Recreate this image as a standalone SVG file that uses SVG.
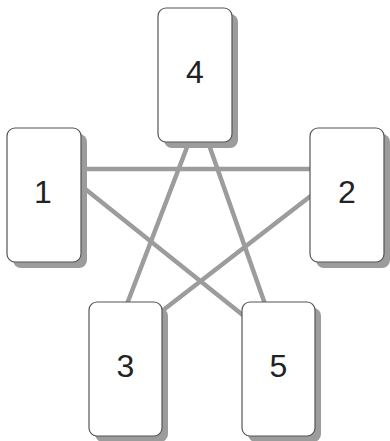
<svg xmlns="http://www.w3.org/2000/svg" width="390" height="441" viewBox="0 0 390 441">
<style>
.edge{stroke:#9c9c9c;stroke-width:4.5;fill:none}
.shadow{fill:#9c9c9c}
.box{fill:#fff;stroke:#555;stroke-width:1.2}
.lbl{font-family:"Liberation Sans",Arial,sans-serif;font-size:32px;fill:#222;text-anchor:middle}
</style>
<rect width="390" height="441" fill="#fff"/>
<g id="connectors">
<line class="edge" x1="85" y1="169" x2="310" y2="169"/>
<line class="edge" x1="84" y1="188" x2="244" y2="316"/>
<line class="edge" x1="312" y1="195" x2="162" y2="311"/>
<line class="edge" x1="189" y1="142" x2="127" y2="304"/>
<line class="edge" x1="208" y1="142" x2="265" y2="304"/>
</g>
<g id="node4">
<rect class="shadow" x="164" y="14" width="74" height="134" rx="8"/>
<rect class="box" x="158" y="8" width="74" height="134" rx="8"/>
<text class="lbl" x="195" y="83">4</text>
</g>
<g id="node1">
<rect class="shadow" x="13" y="134" width="74" height="134" rx="8"/>
<rect class="box" x="7" y="128" width="74" height="134" rx="8"/>
<text class="lbl" x="43" y="203">1</text>
</g>
<g id="node2">
<rect class="shadow" x="316" y="134" width="74" height="134" rx="8"/>
<rect class="box" x="310" y="128" width="74" height="134" rx="8"/>
<text class="lbl" x="347" y="203">2</text>
</g>
<g id="node3">
<rect class="shadow" x="95" y="308" width="73" height="134" rx="8"/>
<rect class="box" x="89" y="302" width="73" height="134" rx="8"/>
<text class="lbl" x="125.5" y="377">3</text>
</g>
<g id="node5">
<rect class="shadow" x="248" y="308" width="73" height="134" rx="8"/>
<rect class="box" x="242" y="302" width="73" height="134" rx="8"/>
<text class="lbl" x="278.5" y="377">5</text>
</g>
</svg>
